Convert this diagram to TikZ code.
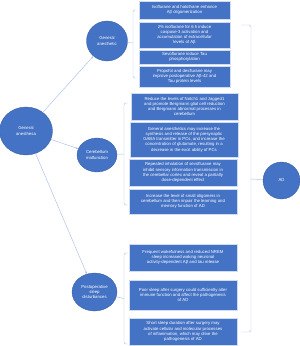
\documentclass[tikz,border=0pt]{standalone}
\usepackage{fontspec}
\setmainfont{Liberation Sans}
\usetikzlibrary{arrows.meta,shapes.geometric}

\definecolor{boxblue}{HTML}{4472C4}
\definecolor{linkblue}{HTML}{A9BEE4}

\begin{document}
\begin{tikzpicture}[x=1pt,y=-1pt,
  every node/.style={font=\fontsize{4.3}{5.2}\selectfont,text=white},
  hub/.style={ellipse,fill=boxblue,draw=boxblue!80!black,line width=0.3pt,inner sep=0pt,align=center},
  fact/.style={rectangle,fill=boxblue,draw=white!75!boxblue,line width=0.4pt,inner sep=0pt,align=center},
  link/.style={draw=linkblue,line width=0.45pt},
  brace/.style={draw=linkblue,line width=0.45pt,rounded corners=1.5pt}]
\useasboundingbox (0,0) rectangle (300,346);

% circles
\node[hub,minimum width=53pt,minimum height=48pt] (ga) at (26,131) {General\\anesthesa};
\node[hub,minimum width=41pt,minimum height=40pt] (gen) at (107,41) {General\\anesthetic};
\node[hub,minimum width=40pt,minimum height=34pt] (cer) at (97,155) {Cerebellum\\malfunction};
\node[hub,minimum width=45pt,minimum height=38pt] (post) at (94.5,292) {Postoperative\\sleep\\disturbances};
\node[hub,minimum width=37pt,minimum height=37pt] (ad) at (281.5,180.5) {AD};

% general anesthetic boxes
\node[fact,minimum width=91pt,minimum height=18pt] (g1) at (184.5,10) {Isoflurane and halothane enhance\\Aβ oligomerization};
\node[fact,minimum width=91pt,minimum height=26pt] (g2) at (184.5,35) {2\% isoflurane for 6 h induce\\caspase-3 activation and\\accumulation of extracellular\\levels of Aβ};
\node[fact,minimum width=91pt,minimum height=14pt] (g3) at (184.5,57) {Sevoflurane induce Tau\\phosphorylation};
\node[fact,minimum width=91pt,minimum height=21pt] (g4) at (184.5,76.5) {Propofol and desflurane may\\improve postoperative Aβ-42 and\\Tau protein levels};

% cerebellum boxes
\node[fact,minimum width=107pt,minimum height=27pt] (c1) at (184.5,106.5) {Reduce the levels of Notch1 and Jagged1\\and promote Bergmann glial cell reduction\\and Bergmann abnormal processes in\\cerebellum};
\node[fact,minimum width=108pt,minimum height=35pt] (c2) at (184,139.5) {General anesthetics may increase the\\synthesis and release of the presynaptic\\GABA transmitter in PCs, and increase the\\concentration of glutamate, resulting in a\\decrease in the excit ability of PCs};
\node[fact,minimum width=108pt,minimum height=27pt] (c3) at (183,172.5) {Repeated inhalation of sevoflurane may\\inhibit sensory information transmission in\\the cerebellar cortex and reveal a partially\\dose-dependent effect};
\node[fact,minimum width=108pt,minimum height=25pt] (c4) at (183,201.5) {Increase the level of small oligomers in\\cerebellum and then impair the learning and\\memory function of AD};

% sleep boxes
\node[fact,minimum width=108pt,minimum height=27pt] (s1) at (183,257.5) {Frequent wakefulness and reduced NREM\\sleep increased waking neuronal\\activity-dependent Aβ and tau release};
\node[fact,minimum width=108pt,minimum height=30pt] (s2) at (183,295) {Poor sleep after surgery could sufficiently alter\\immune function and affect the pathogenesis\\of AD};
\node[fact,minimum width=108pt,minimum height=27pt] (s3) at (183,331.5) {Short sleep duration after surgery may\\activate cellular and molecular processes\\of inflammation, which may drive the\\pathogenesis of AD};

% arrows from the main circle
\draw[link,-{Stealth[length=2.5pt,width=2pt]}] (ga) -- (gen);
\draw[link,-{Stealth[length=2.5pt,width=2pt]}] (ga) -- (cer);
\draw[link,-{Stealth[length=2.5pt,width=2pt]}] (ga) -- (post);

% brackets
\coordinate (gb) at (133,43);
\coordinate (cb) at (124,154);
\coordinate (sb) at (124,298.5);
\coordinate (ab) at (251,179);
\draw[brace] (137,10) -- (133,10) -- (133,78) -- (137,78);
\draw[link] (gen) -- (gb);
\draw[brace] (128,103) -- (124,103) -- (124,205) -- (128,205);
\draw[link] (cer) -- (cb);
\draw[brace] (128,253) -- (124,253) -- (124,344) -- (128,344);
\draw[link] (post) -- (sb);
\draw[brace] (241,25) -- (251,25) -- (251,332) -- (241,332);
\draw[link] (ab) -- (ad);
\end{tikzpicture}
\end{document}
